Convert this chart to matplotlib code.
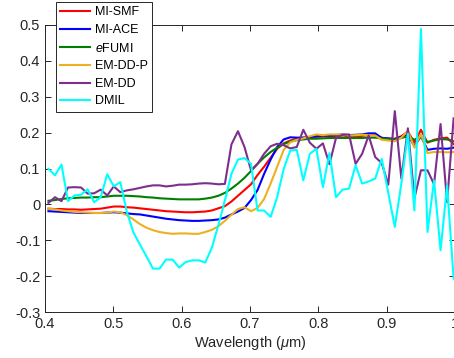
import numpy as np
import matplotlib
matplotlib.use('Agg')
import matplotlib.pyplot as plt

plt.rcParams['font.family'] = ['Liberation Sans', 'DejaVu Sans']
plt.rcParams['axes.unicode_minus'] = False
plt.rcParams['mathtext.fontset'] = 'custom'
plt.rcParams['mathtext.it'] = 'Liberation Sans:italic'
plt.rcParams['mathtext.rm'] = 'Liberation Sans'

# band centres (um), 63 bands
wavelength = np.linspace(0.405, 0.998, 63)

mi_smf = [-0.012, -0.013, -0.013, -0.014, -0.014, -0.015, -0.014, -0.013, -0.012, -0.009,
          -0.006, -0.006, -0.008, -0.009, -0.011, -0.013, -0.015, -0.017, -0.019, -0.020,
          -0.021, -0.022, -0.022, -0.021, -0.020, -0.017, -0.011, -0.005, 0.008, 0.024,
          0.040, 0.056, 0.082, 0.105, 0.130, 0.155, 0.170, 0.178, 0.183, 0.186,
          0.187, 0.188, 0.189, 0.189, 0.191, 0.192, 0.190, 0.190, 0.191, 0.193,
          0.193, 0.186, 0.183, 0.183, 0.190, 0.203, 0.172, 0.208, 0.172, 0.180,
          0.184, 0.186, 0.168]

mi_ace = [-0.019, -0.020, -0.021, -0.022, -0.023, -0.024, -0.024, -0.024, -0.024, -0.023,
          -0.022, -0.023, -0.025, -0.027, -0.028, -0.031, -0.034, -0.037, -0.040, -0.042,
          -0.044, -0.045, -0.046, -0.046, -0.045, -0.044, -0.042, -0.037, -0.028, -0.020,
          -0.010, 0.012, 0.040, 0.085, 0.125, 0.160, 0.181, 0.187, 0.186, 0.186,
          0.187, 0.190, 0.192, 0.192, 0.193, 0.195, 0.193, 0.194, 0.195, 0.198,
          0.198, 0.185, 0.184, 0.182, 0.188, 0.195, 0.162, 0.190, 0.152, 0.155,
          0.156, 0.155, 0.158]

efumi = [0.010, 0.012, 0.015, 0.017, 0.018, 0.019, 0.019, 0.020, 0.020, 0.022,
         0.024, 0.024, 0.024, 0.023, 0.022, 0.020, 0.019, 0.017, 0.016, 0.015,
         0.014, 0.014, 0.014, 0.014, 0.016, 0.019, 0.024, 0.032, 0.044, 0.058,
         0.074, 0.093, 0.113, 0.131, 0.146, 0.158, 0.168, 0.175, 0.179, 0.181,
         0.183, 0.183, 0.184, 0.185, 0.185, 0.185, 0.185, 0.185, 0.185, 0.186,
         0.186, 0.184, 0.182, 0.181, 0.185, 0.190, 0.180, 0.188, 0.174, 0.178,
         0.182, 0.181, 0.176]

em_dd_p = [-0.012, -0.014, -0.017, -0.019, -0.021, -0.022, -0.023, -0.024, -0.024, -0.023,
           -0.020, -0.022, -0.030, -0.042, -0.055, -0.065, -0.072, -0.077, -0.080, -0.082,
           -0.081, -0.081, -0.082, -0.082, -0.077, -0.071, -0.061, -0.046, -0.029, -0.013,
           -0.008, -0.019, -0.010, 0.015, 0.058, 0.105, 0.152, 0.173, 0.180, 0.184,
           0.190, 0.195, 0.193, 0.195, 0.195, 0.195, 0.192, 0.193, 0.194, 0.193,
           0.192, 0.180, 0.178, 0.176, 0.186, 0.205, 0.158, 0.196, 0.143, 0.146,
           0.146, 0.145, 0.146]

em_dd = [0.004, 0.020, 0.009, 0.047, 0.048, 0.047, 0.030, 0.031, 0.041, 0.025,
         0.050, 0.034, 0.039, 0.042, 0.046, 0.050, 0.053, 0.053, 0.050, 0.052,
         0.055, 0.055, 0.056, 0.058, 0.059, 0.058, 0.056, 0.057, 0.167, 0.204,
         0.160, 0.095, 0.113, 0.141, 0.162, 0.169, 0.165, 0.156, 0.160, 0.208,
         0.172, 0.155, 0.170, 0.112, 0.185, 0.194, 0.195, 0.113, 0.141, 0.192,
         0.132, 0.115, 0.055, 0.260, 0.072, 0.212, 0.017, 0.095, 0.095, 0.056,
         0.224, 0.006, 0.240]

dmil = [0.099, 0.081, 0.111, 0.009, 0.025, 0.027, 0.042, 0.006, 0.020, 0.084,
        0.050, 0.062, -0.021, -0.078, -0.112, -0.145, -0.179, -0.179, -0.154, -0.154,
        -0.176, -0.161, -0.156, -0.156, -0.162, -0.121, -0.058, 0.011, 0.085, 0.125,
        0.129, 0.113, -0.017, -0.017, -0.035, 0.020, 0.099, 0.150, 0.152, 0.067,
        0.141, 0.155, 0.048, 0.143, 0.020, 0.041, 0.044, 0.109, 0.058, 0.064,
        0.072, 0.127, 0.032, -0.063, 0.058, 0.197, -0.017, 0.489, -0.077, 0.067,
        -0.128, 0.053, -0.207]

labels = ['MI-SMF', 'MI-ACE', '$\\it{e}$FUMI', 'EM-DD-P', 'EM-DD', 'DMIL']
colors = ['#FF0000', '#0000FF', '#008000', '#EDB120', '#7E2F8E', '#00FFFF']
series = [mi_smf, mi_ace, efumi, em_dd_p, em_dd, dmil]

xticks = [0.4, 0.5, 0.6, 0.7, 0.8, 0.9, 1.0]
xticklabels = ['0.4', '0.5', '0.6', '0.7', '0.8', '0.9', '1']
yticks = [-0.3, -0.2, -0.1, 0, 0.1, 0.2, 0.3, 0.4, 0.5]
yticklabels = ['-0.3', '-0.2', '-0.1', '0', '0.1', '0.2', '0.3', '0.4', '0.5']

fig = plt.figure(figsize=(4.54, 3.58), dpi=100)
ax = fig.add_axes([45/454, 46/358, 410/454, 287/358])

for s, c, l in zip(series, colors, labels):
    ax.plot(wavelength, s, color=c, lw=1.5, label=l)

ax.set_xlim(0.4, 1.0)
ax.set_ylim(-0.3, 0.5)
ax.set_xticks(xticks)
ax.set_xticklabels(xticklabels)
ax.set_yticks(yticks)
ax.set_yticklabels(yticklabels)
ax.tick_params(direction='in', length=4, width=0.7, colors='#262626',
               labelsize=10.5, top=True, right=True)
for sp in ax.spines.values():
    sp.set_color('#262626')
    sp.set_linewidth(0.7)
ax.set_xlabel('Wavelength ($\\mu$m)', fontsize=10.5, color='#262626', labelpad=2)

leg = ax.legend(loc='upper left', bbox_to_anchor=(56/454, 1 - 2/358),
                bbox_transform=fig.transFigure, borderaxespad=0, fontsize=9,
                fancybox=False, framealpha=1, edgecolor='#262626',
                handlelength=2.4, handletextpad=0.35, labelspacing=0.45,
                borderpad=0.35)
leg.get_frame().set_linewidth(0.7)

fig.savefig('out.png', dpi=100)
